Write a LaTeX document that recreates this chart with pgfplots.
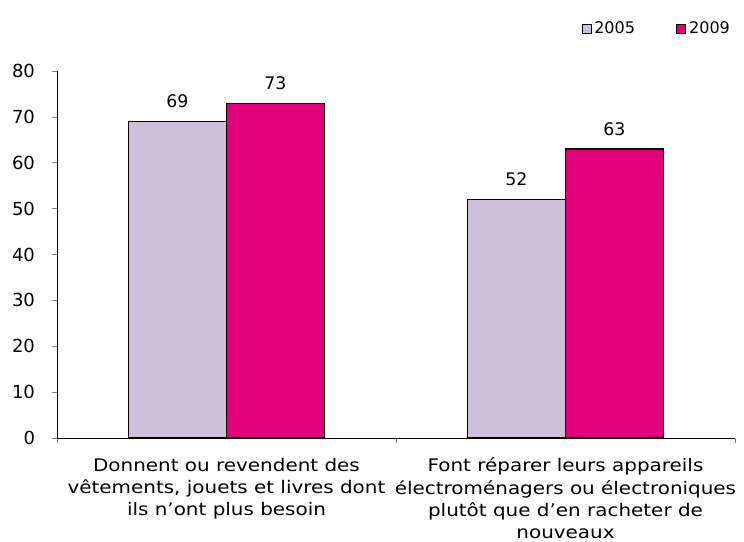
\documentclass[border=0pt]{standalone}
\usepackage{pgfplots}
\pgfplotsset{compat=1.18}
\usepackage{fontspec}
\setmainfont{DejaVu Sans}
\newfontfamily\widesans[FakeStretch=1.15]{DejaVu Sans}
\definecolor{lav}{RGB}{204,192,218}
\definecolor{mag}{RGB}{226,0,122}
\begin{document}
\begin{tikzpicture}[x=1pt,y=1pt]
\path[use as bounding box] (-42.75pt,-78pt) rectangle ++(558pt,406.5pt);
\begin{axis}[
  scale only axis,
  width=508.5pt, height=275.25pt,
  anchor=south west, at={(0,0)},
  ymin=0, ymax=80, ytick={0,10,...,80},
  xmin=-0.5, xmax=1.5,
  xtick={-0.5,0.5,1.5}, xticklabels={},
  extra x ticks={0,1},
  extra x tick style={major tick length=0pt,
    xticklabel style={align=center, font=\widesans\fontsize{13}{16.7}\selectfont, yshift=-11.5pt}},
  extra x tick labels={{Donnent ou revendent des\\vêtements, jouets et livres dont\\ils n’ont plus besoin},
    {Font réparer leurs appareils\\électroménagers ou électroniques\\plutôt que d’en racheter de\\nouveaux}},
  axis x line*=bottom, axis y line*=left,
  axis line style={black, thin},
  tick style={gray, thin},
  tick align=outside,
  major tick length=4pt,
  yticklabel style={font=\fontsize{13.5}{15}\selectfont, xshift=-9pt},
  /pgf/number format/assume math mode=true,
  ybar,
  bar width=73.5pt,
  nodes near coords,
  every node near coord/.append style={font=\fontsize{13}{15}\selectfont, black, yshift=6.5pt},
  legend columns=2,
  legend style={draw=none, fill=none, at={(rel axis cs:0.885,1.115)}, anchor=center,
    font=\fontsize{12}{14}\selectfont,
    /tikz/every even column/.append style={column sep=29pt}},
  legend image code/.code={\draw[#1, draw=black, line width=0.8pt] (0pt,-3.4pt) rectangle (6.8pt,3.4pt);},
  clip=false,
]
\addplot[fill=lav, draw=black, line width=0.8pt, bar shift=-36.75pt] coordinates {(0,69) (1,52)};
\addplot[fill=mag, draw=black, line width=0.8pt, bar shift=36.75pt] coordinates {(0,73) (1,63)};
\legend{2005,2009}
\end{axis}
\end{tikzpicture}
\end{document}
